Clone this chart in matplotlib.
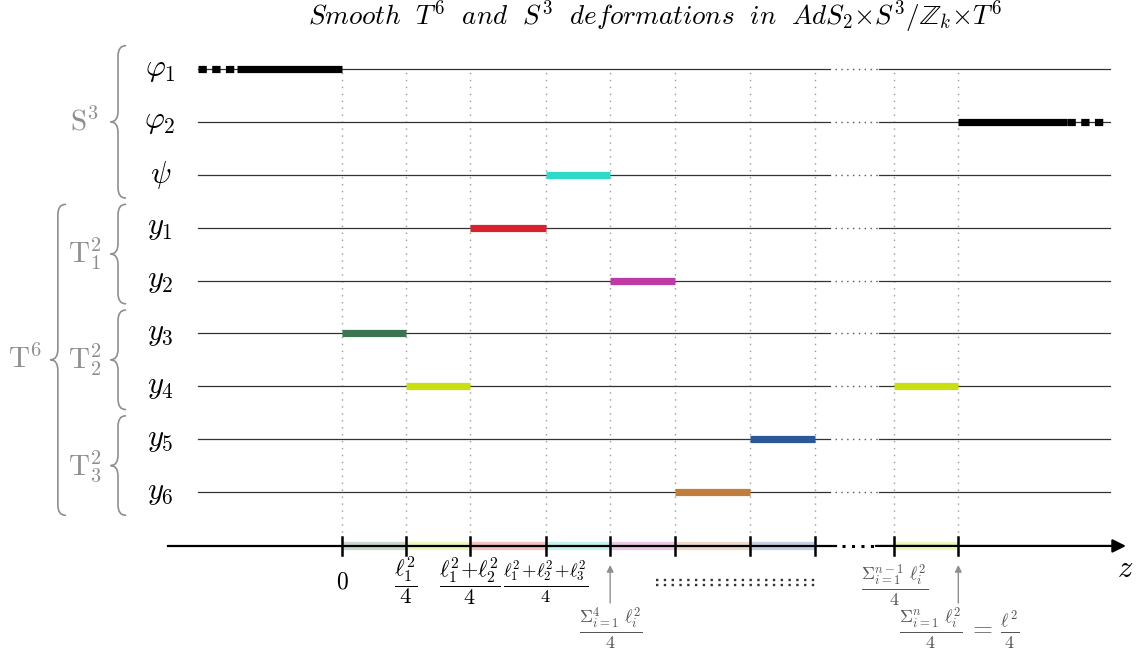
import matplotlib.pyplot as plt
from matplotlib.path import Path
from matplotlib.patches import PathPatch

plt.rcParams["mathtext.fontset"] = "cm"

TITLE = (r"$Smooth\ \ T^6\ \ and\ \ S^3\ \ deformations\ \ in\ \ "
         r"AdS_2{\times}S^3/\mathbb{Z}_k{\times}T^6$")

# rows, top to bottom
row_labels = [r"$\varphi_1$", r"$\varphi_2$", r"$\psi$", r"$y_1$", r"$y_2$",
              r"$y_3$", r"$y_4$", r"$y_5$", r"$y_6$"]

# interval boundaries on the z axis
z_ticks = [0.0, 1.0, 2.0, 3.19, 4.19, 5.2, 6.38, 7.39, 8.63, 9.63]

# coloured deformation segments: row index, start, end, colour
seg_rows = [2, 3, 4, 5, 6, 6, 7, 8]
seg_start = [3.19, 2.0, 4.19, 0.0, 1.0, 8.63, 6.38, 5.2]
seg_end = [4.19, 3.19, 5.2, 1.0, 2.0, 9.63, 7.39, 6.38]
seg_colors = ["#30d8c8", "#d8222e", "#c03aa6", "#3a7650", "#c8e010",
              "#c8e010", "#2b5997", "#c07d3e"]

# black half-lines on phi_1 / phi_2 (solid part and dashed tail)
black_rows = [0, 1]
black_start = [-1.64, 9.63]
black_end = [0.0, 11.33]
tail_start = [-2.25, 11.33]
tail_end = [-1.64, 11.92]

# labels under the z axis
tick_label_z = [0.0, 1.0, 2.0, 3.19]
tick_label_text = [r"$0$", r"$\dfrac{\ell_1^2}{4}$",
                   r"$\dfrac{\ell_1^2{+}\ell_2^2}{4}$",
                   r"$\frac{\ell_1^2\!+\!\ell_2^2\!+\!\ell_3^2}{4}$"]
tick_label_size = [17, 16.5, 16, 19]
nm1_label_z = 8.63
nm1_label = r"$\frac{\Sigma_{i=1}^{n-1}\ \ell_i^2}{4}$"
arrow_z = [4.19, 9.63]
arrow_labels = [r"$\frac{\Sigma_{i=1}^{4}\ \ell_i^2}{4}$",
                r"$\frac{\Sigma_{i=1}^{n}\ \ell_i^2}{4}\,=\,\frac{\ell^2}{4}$"]

# braces: label, first row, last row
inner_groups = [(r"$\mathrm{S}^3$", 0, 2), (r"$\mathrm{T}^2_1$", 3, 4),
                (r"$\mathrm{T}^2_2$", 5, 6), (r"$\mathrm{T}^2_3$", 7, 8)]
outer_groups = [(r"$\mathrm{T}^6$", 3, 8)]

LINE_START, LINE_END = -2.25, 12.0
GAP = (7.62, 8.39)
AXIS_Y = -1.02
GREY = "#8f8f8f"
LABEL_GREY = "#555555"


def row_y(i):
    return len(row_labels) - 1 - i


def brace(ax, xs, y0, y1, dx=0.117, r=0.2, color=GREY, lw=1.2):
    ym = (y0 + y1) / 2
    verts = [(xs + dx, y1), (xs, y1), (xs, y1 - r),
             (xs, ym + r),
             (xs, ym), (xs - dx, ym),
             (xs, ym), (xs, ym - r),
             (xs, y0 + r),
             (xs, y0), (xs + dx, y0)]
    codes = [Path.MOVETO, Path.CURVE3, Path.CURVE3, Path.LINETO,
             Path.CURVE3, Path.CURVE3, Path.CURVE3, Path.CURVE3,
             Path.LINETO, Path.CURVE3, Path.CURVE3]
    ax.add_patch(PathPatch(Path(verts, codes), fc="none", ec=color, lw=lw,
                           capstyle="round"))


fig = plt.figure(figsize=(11.4, 6.52), dpi=100)
ax = fig.add_axes([0, 0, 1, 1])
ax.set_xlim(-5.344, 12.469)
ax.set_ylim(-3.026, 9.305)
ax.axis("off")

ax.text(4.89, 8.84, TITLE, ha="center", va="baseline", fontsize=19.5)

# vertical dotted guides
for z in z_ticks:
    ax.plot([z, z], [AXIS_Y, row_y(0)], color="#999999", lw=1.0,
            dashes=(1, 4), zorder=1)

# thin row lines with the dotted gap
for i, lab in enumerate(row_labels):
    y = row_y(i)
    ax.plot([LINE_START, GAP[0]], [y, y], color="#333333", lw=0.9, zorder=2)
    ax.plot([GAP[1], LINE_END], [y, y], color="#333333", lw=0.9, zorder=2)
    ax.plot([GAP[0] + 0.09, GAP[1] - 0.02], [y, y], color="#555555", lw=1.0,
            dashes=(1, 3.2), zorder=2)
    ax.text(-2.84, y, lab, ha="center", va="center", fontsize=22)

# coloured segments and their shadows on the z axis
for r, a, b, c in zip(seg_rows, seg_start, seg_end, seg_colors):
    ax.plot([a, b], [row_y(r), row_y(r)], color=c, lw=5.2,
            solid_capstyle="butt", zorder=3)
    ax.plot([a, b], [AXIS_Y, AXIS_Y], color=c, lw=6, alpha=0.28,
            solid_capstyle="butt", zorder=3)

for r, a, b, ta, tb in zip(black_rows, black_start, black_end, tail_start, tail_end):
    y = row_y(r)
    ax.plot([a, b], [y, y], color="black", lw=5.2, solid_capstyle="butt", zorder=3)
    ax.plot([ta, tb], [y, y], color="black", lw=5.2, dashes=(1.15, 0.75), zorder=3)

# z axis
ax.plot([-2.72, GAP[0] + 0.1], [AXIS_Y, AXIS_Y], color="black", lw=1.6, zorder=4)
ax.plot([GAP[0] + 0.2, GAP[1] - 0.05], [AXIS_Y, AXIS_Y], color="black", lw=2.2,
        dashes=(1, 2.1), zorder=4)
ax.annotate("", xy=(12.25, AXIS_Y), xytext=(GAP[1] - 0.05, AXIS_Y),
            arrowprops=dict(arrowstyle="-|>", color="black", lw=1.6,
                            mutation_scale=20, shrinkA=0, shrinkB=0), zorder=4)
for z in z_ticks:
    ax.plot([z, z], [AXIS_Y - 0.17, AXIS_Y + 0.17], color="black", lw=1.8, zorder=5)
ax.text(12.23, -1.44, r"$z$", ha="center", va="center", fontsize=22)

for z, lab, fs in zip(tick_label_z, tick_label_text, tick_label_size):
    ax.text(z, -1.69, lab, ha="center", va="center", fontsize=fs)
ax.text(nm1_label_z, -1.77, nm1_label, ha="center", va="center", fontsize=18.5,
        color=LABEL_GREY)

for z, lab in zip(arrow_z, arrow_labels):
    ax.annotate("", xy=(z, -1.38), xytext=(z, -2.1),
                arrowprops=dict(arrowstyle="-|>", color=GREY, lw=1.0,
                                mutation_scale=10, shrinkA=0, shrinkB=0))
    ax.text(z + 0.02, -2.57, lab, ha="center", va="center", fontsize=18.5,
            color=LABEL_GREY)

# colon-like dotted filler under the axis
for y in (-1.66, -1.76):
    ax.plot([4.9, 7.39], [y, y], color="#333333", lw=1.7, dashes=(1, 2.3))

# braces
for lab, r0, r1 in inner_groups:
    y1, y0 = row_y(r0) + 0.44, row_y(r1) - 0.44
    brace(ax, -3.5, y0, y1)
    ax.text(-4.02, (y0 + y1) / 2, lab, ha="center", va="center", fontsize=21,
            color=GREY)
for lab, r0, r1 in outer_groups:
    y1, y0 = row_y(r0) + 0.44, row_y(r1) - 0.44
    brace(ax, -4.44, y0, y1)
    ax.text(-4.95, (y0 + y1) / 2, lab, ha="center", va="center", fontsize=21,
            color=GREY)

fig.savefig("out.png", dpi=100)
